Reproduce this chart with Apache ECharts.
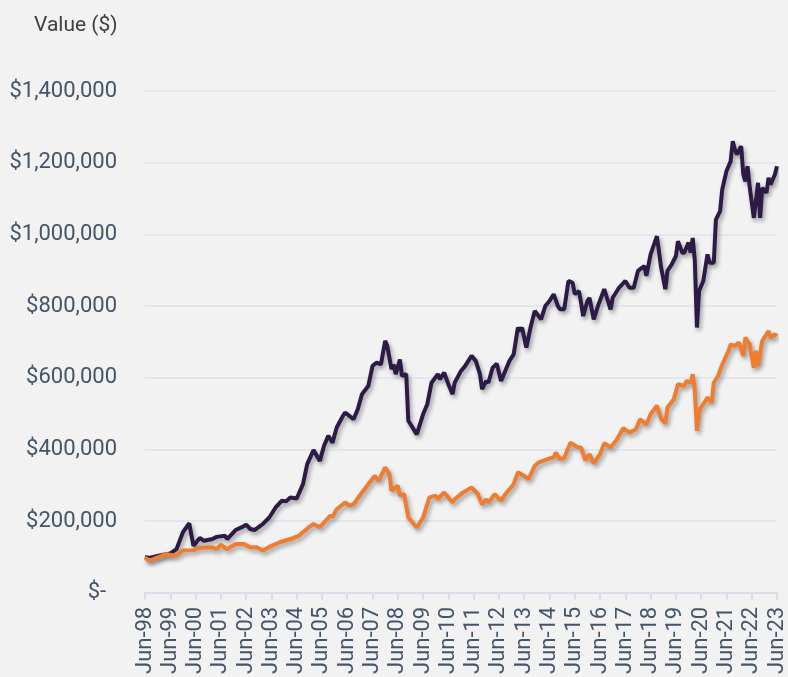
<!DOCTYPE html>
<html>
<head>
<meta charset="utf-8">
<script src="https://cdn.jsdelivr.net/npm/echarts@6/dist/echarts.min.js"></script>
<style>
  html, body { margin: 0; padding: 0; background: #f2f2f2; }
  #chart { width: 788px; height: 677px; }
</style>
</head>
<body>
<div id="chart"></div>
<script>
// Month index 0 = Jun-98; x-axis tick every 12 months
const tickLabels = ['Jun-98','Jun-99','Jun-00','Jun-01','Jun-02','Jun-03','Jun-04','Jun-05','Jun-06','Jun-07','Jun-08','Jun-09','Jun-10','Jun-11','Jun-12','Jun-13','Jun-14','Jun-15','Jun-16','Jun-17','Jun-18','Jun-19','Jun-20','Jun-21','Jun-22','Jun-23'];

// Dark series (portfolio) — months since Jun-98 and value in $
const darkMonths = [0,2,7,12,15,18,21,23,26,28,32,34,38,39,43,46,48,50,52,56,59,62,65,67,69,72,75,77,80,83,85,87,89,91,94,95,99,101,103,106,108,110,112,114,115,117,118,119,121,122,124,125,127,129,132,134,136,139,140,142,144,146,147,150,152,155,157,159,160,162,163,165,167,169,171,173,175,177,178,179,181,183,185,188,190,192,194,196,197,199,201,203,204,206,207,208,210,211,213,215,218,219,221,222,225,228,230,232,234,236,237,238,240,243,245,247,248,250,252,253,255,256,258,259,260,261,262,263,265,267,268,270,271,273,274,276,278,279,280,281,283,284,285,286,287,289,291,292,293,295,296,297,299,300];
const darkValues = [100000,97000,104000,110000,122000,169000,194000,131000,153000,145000,150000,156000,159000,150000,175000,183000,190000,178000,175000,192000,210000,238000,257000,255000,266000,263000,303000,359000,398000,368000,410000,438000,419000,461000,494000,503000,484000,512000,554000,577000,633000,642000,637000,703000,689000,624000,637000,610000,651000,605000,610000,480000,461000,442000,498000,526000,586000,610000,596000,614000,582000,554000,586000,619000,633000,661000,647000,610000,568000,591000,586000,628000,639000,591000,619000,647000,665000,740000,730000,740000,684000,740000,786000,763000,800000,814000,833000,800000,791000,791000,870000,865000,833000,842000,809000,772000,814000,823000,763000,800000,847000,828000,791000,823000,851000,870000,851000,851000,898000,907000,912000,884000,944000,995000,907000,847000,898000,916000,939000,981000,949000,949000,977000,949000,990000,926000,740000,842000,870000,944000,921000,921000,1041000,1065000,1125000,1176000,1204000,1260000,1237000,1223000,1246000,1167000,1148000,1190000,1134000,1046000,1144000,1046000,1130000,1116000,1158000,1139000,1167000,1190000];

// Orange series (benchmark)
const orangeMonths = [0,2,6,10,13,15,18,23,25,32,34,36,39,43,47,50,53,56,60,64,69,73,78,80,83,88,89,91,95,97,99,103,106,109,111,114,116,117,120,121,123,125,129,132,135,138,139,142,146,147,151,155,158,160,162,163,166,169,171,175,177,180,182,185,187,191,194,195,197,199,202,205,207,209,211,213,216,218,220,221,224,227,230,233,235,238,240,243,245,247,248,251,253,256,257,259,260,261,262,263,265,267,269,270,272,274,277,278,280,282,284,285,287,289,290,291,293,296,297,299,300];
const orangeValues = [98000,90000,99000,108000,105000,105000,118000,119000,125000,127000,122000,134000,122000,136000,136000,127000,127000,118000,131000,141000,150000,159000,184000,192000,183000,215000,212000,233000,252000,243000,247000,280000,303000,326000,313000,350000,331000,285000,299000,271000,275000,210000,182000,210000,266000,271000,261000,280000,252000,261000,280000,294000,275000,247000,261000,252000,275000,257000,275000,303000,336000,326000,317000,354000,364000,373000,378000,391000,373000,376000,419000,407000,405000,370000,387000,361000,387000,417000,410000,405000,428000,459000,447000,456000,484000,470000,498000,522000,485000,473000,517000,540000,582000,577000,591000,586000,610000,563000,452000,508000,526000,545000,531000,586000,605000,637000,675000,693000,689000,698000,661000,712000,693000,628000,675000,633000,703000,730000,712000,721000,717000];

const pair = (xs, ys) => xs.map((m, i) => [m, ys[i]]);
const labelColor = '#44546a';
const fontFam = 'Roboto, "Noto Sans", sans-serif';

const chart = echarts.init(document.getElementById('chart'), null, { renderer: 'canvas' });
chart.setOption({
  backgroundColor: '#f2f2f2',
  animation: false,
  title: {
    text: 'Value ($)',
    left: 29,
    top: 10,
    textStyle: { color: '#404040', fontSize: 21, fontWeight: 'normal', fontFamily: fontFam }
  },
  grid: { left: 145, right: 9, top: 91, bottom: 80, containLabel: false },
  xAxis: {
    type: 'value',
    min: 0,
    max: 300,
    interval: 12,
    axisLine: { show: true, onZero: false, lineStyle: { color: '#d8dee8', width: 2 } },
    axisTick: { show: true, length: 7, lineStyle: { color: '#d8dee8', width: 2 } },
    splitLine: { show: false },
    axisLabel: {
      rotate: 90,
      margin: 14,
      color: labelColor,
      fontSize: 22,
      fontFamily: fontFam,
      showMinLabel: true,
      showMaxLabel: true,
      formatter: v => tickLabels[Math.round(v / 12)] || ''
    }
  },
  yAxis: {
    type: 'value',
    min: 0,
    max: 1400000,
    interval: 200000,
    axisLine: { show: false },
    axisTick: { show: false },
    splitLine: { show: true, lineStyle: { color: '#dde3ec', width: 1.5 } },
    axisLabel: {
      margin: 28,
      color: labelColor,
      fontSize: 22,
      fontFamily: fontFam,
      formatter: v => v === 0 ? '$-  ' : '$' + v.toLocaleString('en-US')
    }
  },
  series: [
    {
      name: 'Portfolio',
      type: 'line',
      data: pair(darkMonths, darkValues),
      showSymbol: false,
      symbol: 'none',
      z: 3,
      lineStyle: {
        color: '#2e1a47', width: 4,
        shadowColor: 'rgba(0,0,0,0.35)', shadowBlur: 4, shadowOffsetX: 2, shadowOffsetY: 3
      },
      itemStyle: { color: '#2e1a47' }
    },
    {
      name: 'Benchmark',
      type: 'line',
      data: pair(orangeMonths, orangeValues),
      showSymbol: false,
      symbol: 'none',
      z: 4,
      lineStyle: {
        color: '#ef7d30', width: 4,
        shadowColor: 'rgba(0,0,0,0.35)', shadowBlur: 4, shadowOffsetX: 2, shadowOffsetY: 3
      },
      itemStyle: { color: '#ef7d30' }
    }
  ]
});
</script>
</body>
</html>
